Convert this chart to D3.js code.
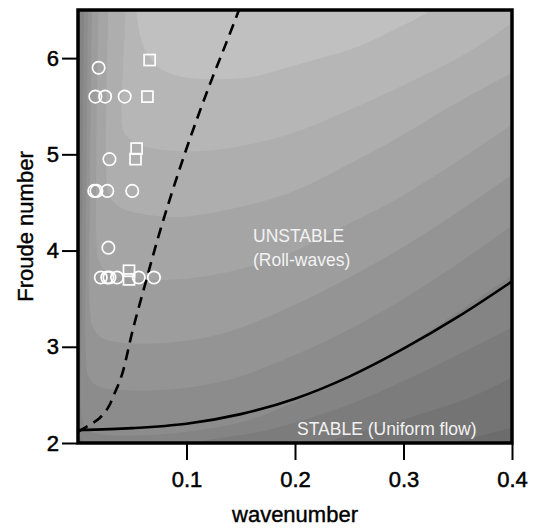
<!DOCTYPE html>
<html>
<head>
  <meta charset="UTF-8">
  <style>
    body { margin: 0; background: #fff; }
    svg { display: block; font-family: "Liberation Sans", Arial, sans-serif; }
  </style>
</head>
<body>
<svg></svg>
<script src="https://d3js.org/d3.v7.min.js"></script>
<script>

let width = 537, height = 531;

// axis ticks
let xTicks = [0.1, 0.2, 0.3, 0.4];
let yTicks = [2, 3, 4, 5, 6];

// experiments: [wavenumber, Froude]
let circlePts = [
    [0.019, 5.90], [0.016, 5.60], [0.025, 5.60], [0.043, 5.60],
    [0.029, 4.95],
    [0.015, 4.62], [0.017, 4.62], [0.027, 4.62], [0.050, 4.62],
    [0.028, 4.03],
    [0.021, 3.72], [0.027, 3.72], [0.029, 3.72], [0.036, 3.72], [0.056, 3.72], [0.070, 3.72]
];
let squarePts = [
    [0.066, 5.98], [0.064, 5.60], [0.054, 5.06], [0.053, 4.95], [0.047, 3.79], [0.047, 3.70]
];

// neutral stability curve (solid)
let neutralCurve = [
    [0, 2.135], [0.05, 2.155], [0.10, 2.20], [0.15, 2.30], [0.20, 2.46],
    [0.25, 2.69], [0.30, 2.98], [0.35, 3.31], [0.40, 3.68]
];

// dashed curve
let dashedCurve = [
    [0, 2.115], [0.011, 2.19], [0.020, 2.26], [0.0276, 2.365], [0.0331, 2.50],
    [0.0405, 2.71], [0.0506, 3.18], [0.0626, 3.68], [0.0745, 4.16], [0.0865, 4.60],
    [0.0994, 5.04], [0.112, 5.44], [0.124, 5.80], [0.136, 6.14], [0.148, 6.49], [0.150, 6.55]
];

// growth-rate contour boundaries (outer to inner)
let c10 = [[-0.05, 1.95], [0.315, 1.95], [0.361, 2.05], [0.40, 2.16]];
let c9 = [[-0.05, 1.95], [0.204, 1.95], [0.259, 2.115], [0.315, 2.30], [0.361, 2.47], [0.40, 2.68]];
let c8 = [[0.0018, 6.55], [0.001, 2.3], [0.003, 2.03], [0.02, 1.99], [0.09, 1.99], [0.13, 2.05],
    [0.167, 2.115], [0.223, 2.29], [0.278, 2.53], [0.333, 2.82], [0.40, 3.20]];
let c7 = [[0.0055, 6.55], [0.0037, 3.49], [0.0037, 2.26], [0.0074, 2.146], [0.0202, 2.094],
    [0.066, 2.083], [0.112, 2.135], [0.158, 2.24], [0.195, 2.40], [0.250, 2.68], [0.296, 2.97],
    [0.342, 3.30], [0.40, 3.74]];
let c6 = [[0.0092, 6.55], [0.0074, 4.01], [0.0074, 2.865], [0.0101, 2.68], [0.0184, 2.59],
    [0.0432, 2.55], [0.089, 2.56], [0.140, 2.66], [0.195, 2.89], [0.250, 3.18], [0.296, 3.47],
    [0.342, 3.80], [0.40, 4.26]];
let c5 = [[0.013, 6.55], [0.011, 4.53], [0.011, 3.385], [0.0138, 3.20], [0.0221, 3.09],
    [0.0432, 3.04], [0.089, 3.05], [0.140, 3.16], [0.195, 3.41], [0.250, 3.72], [0.296, 4.01],
    [0.342, 4.34], [0.40, 4.79]];
let c4 = [[0.019, 6.55], [0.017, 5.05], [0.017, 4.11], [0.0193, 3.885], [0.0276, 3.77],
    [0.048, 3.71], [0.089, 3.70], [0.140, 3.78], [0.195, 3.97], [0.250, 4.28], [0.296, 4.55],
    [0.342, 4.87], [0.40, 5.31]];
let c3 = [[0.028, 6.55], [0.026, 5.5], [0.026, 4.84], [0.0285, 4.58], [0.0386, 4.45],
    [0.062, 4.375], [0.094, 4.35], [0.140, 4.43], [0.195, 4.60], [0.250, 4.90], [0.296, 5.18],
    [0.342, 5.49], [0.40, 5.85]];
let c2 = [[0.044, 6.55], [0.042, 6.0], [0.040, 5.5], [0.043, 5.22], [0.057, 5.10], [0.085, 5.04],
    [0.131, 5.05], [0.195, 5.21], [0.250, 5.46], [0.315, 5.80], [0.361, 6.07], [0.40, 6.37]];
let c1 = [[0.053, 6.55], [0.057, 6.25], [0.064, 6.04], [0.077, 5.885], [0.098, 5.80],
    [0.126, 5.78], [0.163, 5.81], [0.195, 5.91], [0.257, 6.115], [0.296, 6.32], [0.327, 6.51],
    [0.335, 6.6]];

let contours = [c10, c9, c8, c7, c6, c5, c4, c3, c2, c1];
let bandColors = ["#747474", "#7c7c7c", "#848484", "#8c8c8c", "#949494", "#9d9d9d",
    "#a5a5a5", "#aeaeae", "#b6b6b6", "#c0c0c0"];
let outerColor = "#6c6c6c";

let svg = d3.select("svg")
    .attr("width", width)
    .attr("height", height);

let x = d3.scaleLinear().domain([0, 0.4]).range([78, 512]);
let y = d3.scaleLinear().domain([2, 6.5]).range([443, 10]);

svg.append("clipPath").attr("id", "plotclip")
    .append("rect")
    .attr("x", x(0)).attr("y", y(6.5))
    .attr("width", x(0.4) - x(0)).attr("height", y(2) - y(6.5));

let plot = svg.append("g").attr("clip-path", "url(#plotclip)");

plot.append("rect")
    .attr("x", x(0)).attr("y", y(6.5))
    .attr("width", x(0.4) - x(0)).attr("height", y(2) - y(6.5))
    .attr("fill", outerColor);

let smooth = d3.line().x(d => x(d[0])).y(d => y(d[1])).curve(d3.curveCatmullRom.alpha(0.5));

// each band = region on the inner side of its boundary, closed through the top of the plot
plot.selectAll("path.band")
    .data(contours)
    .enter()
    .append("path")
    .attr("class", "band")
    .attr("fill", (d, i) => bandColors[i])
    .attr("d", d => {
        let first = d[0], last = d[d.length - 1];
        return smooth(d) +
            "L" + x(0.45) + "," + y(last[1]) +
            "L" + x(0.45) + "," + y(7) +
            "L" + x(first[0]) + "," + y(7) + "Z";
    });

plot.append("path")
    .attr("d", smooth(neutralCurve))
    .attr("fill", "none")
    .attr("stroke", "#000")
    .attr("stroke-width", 2.6);

plot.append("path")
    .attr("d", smooth(dashedCurve))
    .attr("fill", "none")
    .attr("stroke", "#000")
    .attr("stroke-width", 2.6)
    .attr("stroke-dasharray", "11,7");

plot.append("g")
    .selectAll("circle")
    .data(circlePts)
    .enter()
    .append("circle")
    .attr("cx", d => x(d[0]))
    .attr("cy", d => y(d[1]))
    .attr("r", 6.2)
    .attr("fill", "none")
    .attr("stroke", "#fff")
    .attr("stroke-width", 1.7);

plot.append("g")
    .selectAll("rect")
    .data(squarePts)
    .enter()
    .append("rect")
    .attr("x", d => x(d[0]) - 5.5)
    .attr("y", d => y(d[1]) - 5.5)
    .attr("width", 11)
    .attr("height", 11)
    .attr("fill", "none")
    .attr("stroke", "#fff")
    .attr("stroke-width", 1.7);

// region labels
let labels = svg.append("g")
    .attr("fill", "#f2f2f2")
    .style("font-size", "17.5px");
labels.append("text").attr("x", 253).attr("y", 242).text("UNSTABLE");
labels.append("text").attr("x", 253).attr("y", 266).text("(Roll-waves)");
labels.append("text").attr("x", 297).attr("y", 435).text("STABLE (Uniform flow)");

// frame
svg.append("rect")
    .attr("x", x(0)).attr("y", y(6.5))
    .attr("width", x(0.4) - x(0)).attr("height", y(2) - y(6.5))
    .attr("fill", "none")
    .attr("stroke", "#000")
    .attr("stroke-width", 3.5);

let yAxis = svg.append("g")
    .attr("transform", "translate(" + (x(0) - 1) + ",0)")
    .call(d3.axisLeft(y).tickValues(yTicks).tickFormat(d3.format("d")).tickSize(15).tickPadding(3));

let xAxis = svg.append("g")
    .attr("transform", "translate(0," + (y(2) + 1) + ")")
    .call(d3.axisBottom(x).tickValues(xTicks).tickFormat(d3.format(".1f")).tickSize(16).tickPadding(11));

[xAxis, yAxis].forEach(a => {
    a.select(".domain").remove();
    a.selectAll("line").attr("stroke", "#000").attr("stroke-width", 2);
    a.selectAll("text")
        .attr("fill", "#000")
        .attr("stroke", "#000")
        .attr("stroke-width", 0.5)
        .style("font-size", "22px")
        .style("font-family", "'Liberation Sans', Arial, sans-serif");
});

svg.append("text")
    .attr("x", (x(0) + x(0.4)) / 2)
    .attr("y", 522)
    .attr("text-anchor", "middle")
    .attr("stroke", "#000")
    .attr("stroke-width", 0.4)
    .style("font-size", "22px")
    .text("wavenumber");

svg.append("text")
    .attr("transform", "translate(33," + ((y(2) + y(6.5)) / 2) + ") rotate(-90)")
    .attr("text-anchor", "middle")
    .attr("stroke", "#000")
    .attr("stroke-width", 0.4)
    .style("font-size", "22px")
    .text("Froude number");

</script>
</body>
</html>
